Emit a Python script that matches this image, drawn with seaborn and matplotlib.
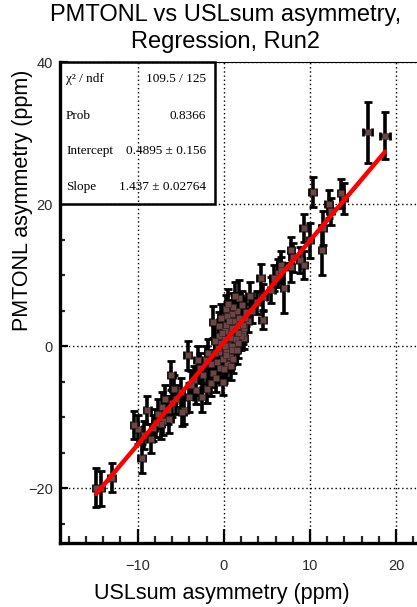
import numpy as np
import pandas as pd
import matplotlib
matplotlib.use("Agg")
import matplotlib.pyplot as plt
from matplotlib.patches import Rectangle
from matplotlib.ticker import MultipleLocator
import seaborn as sns

# ---- data ----
usl = [18.7, 16.7, 13.9, 13.6, 12.2, 12.4, 10.3, 9.3, 11.5, 10.0, 11.4, 8.0, 7.8, 8.9, 9.3,
       6.6, 6.3, 7.8, 5.8, 7.0, 5.5, 6.6, 4.3, 4.5, 4.6, 3.8, 3.3, 2.6, 2.3, 2.2, 2.8,
       1.8, 1.5, 1.2, 0.9, 0.6, 0.3, 0.0, -0.3, -0.5, 0.2, 0.5, 0.8, 1.0, 1.3, 1.6, 1.9,
       2.0, 1.4, 0.7, 0.4, -0.1, -0.4, -0.8, -1.0, -0.6, -1.2, -0.1, 0.1, 0.4, 1.1, 2.1,
       2.4, 1.7, 0.9, 0.1, -0.2, 0.6, 1.0, 1.5, 0.3, -0.7, -1.5, -1.8, -2.1, -1.5, -1.3,
       -2.4, -2.8,
       -3.2, -3.5, -4.2, -4.6, -4.8, -3.8, -5.0, -5.5, -6.1, -6.0, -6.5, -6.8, -7.0, -7.3,
       -7.6, -7.9, -8.2, -8.9, -9.9, -9.5, -9.2, -13.0, -14.3, -14.8,
       0.2, 0.5, 1.3, -0.3, 1.8, 2.2, 0.8, -0.9, -2.0, -1.0, -0.5, 1.1, 1.6, 0.0, 2.5, 3.0,
       -5.8, -7.2, -8.5, -3.0, -4.0, -10.4, -6.3, -2.5]
pmt = [29.6, 30.1, 20.8, 21.5, 20.0, 19.0, 21.7, 16.6, 16.6, 14.9, 13.5, 12.5, 11.1, 12.1, 11.4,
       11.4, 10.3, 13.5, 9.6, 8.2, 7.9, 10.7, 9.6, 3.7, 6.9, 6.2, 5.0, 4.8, 1.1, 1.8, 3.6,
       6.8, 5.0, 3.5, 4.5, 2.0, 3.0, 1.0, 0.5, -0.8, -0.5, 0.2, 1.2, 0.0, 2.5, 2.8, 3.2,
       1.5, 1.0, -1.5, -2.5, -1.8, -3.0, -2.2, -1.0, 1.5, 3.4, -5.1, 2.2, 4.2, 5.5, 5.8,
       2.5, 0.4, -0.6, 0.0, 1.8, 3.6, 2.6, -0.5, -1.2, -0.3, -2.5, -1.0, -2.0, -5.2, -3.8,
       -4.0, -3.0,
       -6.2, -4.8, -1.3, -9.0, -9.3, -5.5, -6.5, -7.5, -4.1, -8.0, -9.0, -7.5, -10.5, -11.0,
       -9.5, -10.8, -11.5, -9.0, -11.7, -15.8, -12.5, -18.5, -20.0, -19.9,
       5.2, 6.0, 7.0, 4.0, 4.0, 3.0, -2.8, -4.5, -6.0, 0.8, 2.8, -1.8, 1.8, -3.2, 4.0, 7.0,
       -6.0, -8.5, -13.0, -2.0, -7.2, -11.1, -10.2, -7.2]
pmt_err = [3.3, 4.3, 2.2, 2.0, 2.0, 1.9, 2.1, 2.0, 2.4, 2.5, 3.5, 2.0, 2.0, 1.8, 2.0,
           2.0, 2.0, 1.8, 1.8, 3.5, 1.8, 1.8, 2.0, 1.3, 1.8, 1.6, 1.8, 2.0, 1.5, 1.5, 1.6,
           2.5, 2.2, 2.0, 2.0, 2.0, 2.2, 2.0, 2.0, 2.0, 2.2, 2.0, 2.0, 2.2, 2.0, 2.0, 2.0,
           2.0, 2.0, 2.0, 2.0, 2.0, 2.0, 2.0, 2.0, 2.0, 2.2, 1.8, 2.0, 2.0, 2.0, 2.0,
           1.8, 2.0, 2.0, 2.0, 2.0, 2.0, 2.0, 2.0, 2.0, 2.0, 2.0, 2.0, 2.0, 1.8, 2.0,
           2.0, 2.0,
           2.0, 2.0, 2.0, 2.0, 2.0, 2.0, 2.0, 2.0, 2.0, 2.0, 2.0, 2.0, 2.0, 2.0,
           2.0, 2.0, 1.8, 2.0, 2.0, 2.0, 2.0, 2.0, 2.5, 2.7,
           2.0, 2.0, 2.0, 2.0, 2.0, 2.0, 2.0, 2.0, 2.0, 2.0, 2.0, 2.0, 2.0, 2.0, 2.0, 2.0,
           2.0, 2.0, 2.0, 2.0, 2.0, 2.0, 2.0, 2.0]
usl_err = [0.6, 0.5] + [0.4] * (len(usl) - 2)

stat_names = ["\u03c7\u00b2 / ndf", "Prob", "Intercept", "Slope"]
stat_values = ["109.5 / 125", "0.8366", "0.4895 \u00b1 0.156", "1.437 \u00b1 0.02764"]
intercept = 0.4895
slope = 1.437

title = "PMTONL vs USLsum asymmetry,\nRegression, Run2"
xlabel = "USLsum asymmetry (ppm)"
ylabel = "PMTONL asymmetry (ppm)"
xticks = [-10, 0, 10, 20]
yticks = [-20, 0, 20, 40]

df = pd.DataFrame({"usl": usl, "pmt": pmt, "ue": usl_err, "pe": pmt_err})
fit = pd.DataFrame({"usl": [min(usl), max(usl)]})
fit["pmt"] = intercept + slope * fit["usl"]

# ---- figure ----
sns.set_theme(style="white")
plt.rcParams["font.family"] = ["Liberation Sans", "DejaVu Sans"]
plt.rcParams["text.color"] = "black"

W, H = 417, 607
fig = plt.figure(figsize=(W / 100, H / 100), dpi=100)
fig.patch.set_facecolor("white")
x0, x1 = -19.0, 24.0
y0, y1 = -27.7, 40.0
left_px, bottom_px, top_px = 60, 543, 62
ppx = 8.62
ax = fig.add_axes([left_px / W, (H - bottom_px) / H,
                   (x1 - x0) * ppx / W, (bottom_px - top_px) / H])
ax.set_facecolor("white")
ax.set_xlim(x0, x1)
ax.set_ylim(y0, y1)

# grid
for v in xticks:
    ax.axvline(v, color="black", lw=1.0, ls=(0, (1, 2)), zorder=2)
for v in yticks:
    ax.axhline(v, color="black", lw=1.0, ls=(0, (1, 2)), zorder=2)

# error bars
ax.errorbar(df["usl"], df["pmt"], xerr=df["ue"], yerr=df["pe"], fmt="none",
            ecolor="black", elinewidth=2.6, capsize=3, capthick=2.0, zorder=3)
# markers
sns.scatterplot(data=df, x="usl", y="pmt", ax=ax, marker="s", s=13,
                color="#6a4646", edgecolor="#3a2222", linewidth=0.4, zorder=4, legend=False)
# fit line
sns.lineplot(data=fit, x="usl", y="pmt", ax=ax, color="#ff0000", lw=3.2, zorder=5)

# stats box
ax.add_patch(Rectangle((x0, 20.0), (215 - left_px) / ppx, 20.0, facecolor="white",
                       edgecolor="black", lw=1.8, zorder=1.5, clip_on=False))
row_y = [37.6, 32.4, 27.5, 22.4]
for name, val, yy in zip(stat_names, stat_values, row_y):
    ax.text(x0 + 6 / ppx, yy, name, ha="left", va="center", fontsize=9.5,
            family=["Liberation Serif", "DejaVu Serif"], color="black", zorder=6)
    ax.text(x0 + 146 / ppx, yy, val, ha="right", va="center", fontsize=9.5,
            family=["Liberation Serif", "DejaVu Serif"], color="black", zorder=6)

# ticks & spines
ax.set_xticks(xticks)
ax.set_yticks(yticks)
ax.xaxis.set_minor_locator(MultipleLocator(2))
ax.yaxis.set_minor_locator(MultipleLocator(5))
ax.tick_params(axis="x", which="major", direction="in", length=10, width=1.6,
               labelsize=10.5, pad=11.5, colors="black", labelcolor="#2a2a2a",
               bottom=True, top=False)
ax.tick_params(axis="x", which="minor", direction="in", length=5, width=1.6,
               bottom=True, top=False)
ax.tick_params(axis="y", which="major", direction="in", length=6, width=1.6,
               labelsize=10.5, pad=5, colors="black", labelcolor="#2a2a2a",
               left=True, right=False)
ax.tick_params(axis="y", which="minor", direction="in", length=3.5, width=1.6,
               left=True, right=False)
for side in ["left", "bottom"]:
    ax.spines[side].set_linewidth(2.4)
    ax.spines[side].set_color("black")
ax.spines["top"].set_linewidth(0.8)
ax.spines["top"].set_color("black")
ax.spines["right"].set_visible(False)
ax.set_xlabel("")
ax.set_ylabel("")

fig.text(226 / W, 1 - 4 / H, title, ha="center", va="top", fontsize=17,
         linespacing=1.3, color="black")
fig.text(222 / W, 1 - 599 / H, xlabel, ha="center", va="baseline", fontsize=15.5,
         color="black")
fig.text(23 / W, 1 - 200 / H, ylabel, ha="center", va="center", rotation=90,
         fontsize=15.5, color="black")

fig.savefig("out.png", dpi=100, facecolor="white")
